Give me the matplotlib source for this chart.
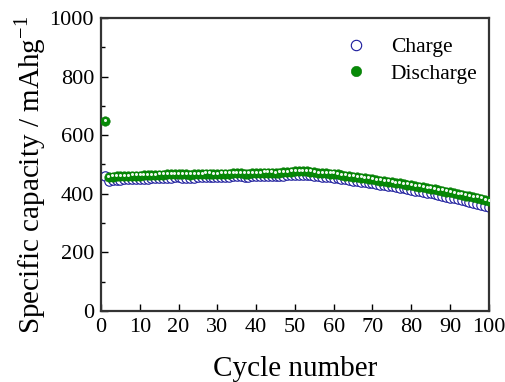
import numpy as np
import matplotlib
matplotlib.use("Agg")
import matplotlib.pyplot as plt
import matplotlib.transforms as mtransforms

# --------- data ----------------------------------
cycles = list(range(1, 101))

charge = [
    460, 445, 446, 447, 448, 449, 449, 450, 451, 451,
    452, 452, 453, 453, 454, 454, 455, 455, 456, 456,
    455, 455, 454, 455, 456, 456, 457, 457, 456, 456,
    457, 458, 458, 459, 459, 459, 458, 458, 459, 460,
    460, 461, 461, 461, 460, 461, 462, 463, 463, 464,
    465, 465, 464, 463, 461, 459, 458, 457, 456, 455,
    453, 451, 449, 447, 445, 443, 441, 439, 437, 435,
    433, 431, 429, 427, 425, 422, 420, 418, 416, 413,
    411, 408, 406, 403, 401, 398, 395, 393, 390, 387,
    384, 381, 378, 375, 372, 369, 366, 363, 359, 355,
]

discharge = [
    648, 457, 458, 459, 459, 460, 460, 461, 462, 462,
    463, 463, 464, 464, 465, 465, 466, 466, 467, 467,
    466, 466, 465, 466, 467, 467, 468, 468, 467, 467,
    468, 469, 469, 470, 470, 470, 469, 469, 470, 471,
    471, 472, 472, 472, 471, 472, 473, 474, 475, 476,
    477, 477, 476, 475, 473, 471, 470, 470, 469, 468,
    466, 464, 462, 460, 458, 457, 455, 453, 451, 449,
    447, 445, 443, 441, 439, 437, 435, 433, 431, 429,
    426, 424, 422, 420, 417, 415, 412, 410, 407, 405,
    402, 399, 397, 394, 391, 389, 386, 383, 379, 374,
]

x_ticks = list(range(0, 101, 10))
y_ticks = list(range(0, 1001, 200))

plt.rcParams["font.family"] = ["Liberation Serif", "DejaVu Serif"]
plt.rcParams["mathtext.fontset"] = "stix"

fig = plt.figure(figsize=(5.05, 3.82), dpi=100)
ax = fig.add_axes([0.200, 0.186, 0.768, 0.767])

# charge: open navy circles (drawn first, sits underneath)
ax.plot(cycles, charge, linestyle="none", marker="o", markersize=6.8,
        markerfacecolor="white", markeredgecolor="#1a1a9c", markeredgewidth=0.8,
        label="Charge", zorder=2)
# discharge: shaded green spheres
ax.plot(cycles, discharge, linestyle="none", marker="o", markersize=6.8,
        markerfacecolor="#078a07", markeredgecolor="#057a05", markeredgewidth=0.4,
        label="Discharge", zorder=3)
# little highlight on each sphere, nudged up a bit
hl = mtransforms.offset_copy(ax.transData, fig=fig, x=-0.2, y=1.0, units="points")
ax.plot(cycles, discharge, linestyle="none", marker="o", markersize=2.2,
        markerfacecolor="#eef8ee", markeredgecolor="none", transform=hl, zorder=4)

ax.set_xlim(0, 100)
ax.set_ylim(0, 1000)
ax.set_xticks(x_ticks)
ax.set_yticks(y_ticks)
ax.set_yticks(range(100, 1000, 200), minor=True)
ax.tick_params(axis="both", which="major", direction="in", length=5, width=1.0,
               labelsize=16, top=False, right=False, pad=5)
ax.tick_params(axis="y", which="minor", direction="in", length=3, width=1.0)

for sp in ax.spines.values():
    sp.set_linewidth(1.6)
    sp.set_color("#333333")

ax.set_xlabel("Cycle number", fontsize=21, labelpad=14)
ax.set_ylabel("Specific capacity / mAhg$^{\\mathregular{-1}}$", fontsize=21)
ax.yaxis.set_label_coords(-0.135, 0.465)

leg = ax.legend(loc="upper right", bbox_to_anchor=(1.01, 0.985), frameon=False,
                fontsize=15.5, handletextpad=0.6, labelspacing=0.3, borderaxespad=0.3,
                markerscale=1.1)

fig.savefig("out.png", dpi=100)
